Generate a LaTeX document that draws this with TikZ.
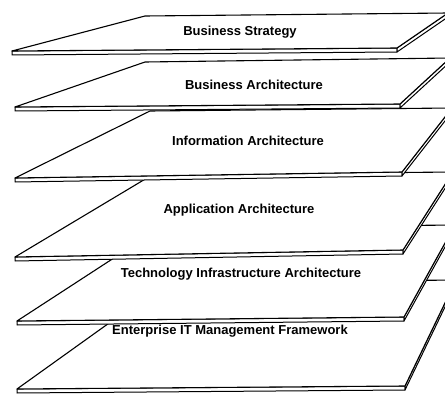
\documentclass[tikz,border=0pt]{standalone}
\usepackage{fontspec}
\setmainfont{Liberation Sans}
\newcommand{\LB}{\fontsize{13}{15}\selectfont\bfseries}

\begin{document}
\begin{tikzpicture}[x=1pt,y=-1pt]
\tikzstyle{texto}=[draw=none,fill=none,black,font=\LB]
\tikzstyle{face}=[draw=black,fill=white,line width=1.1pt,line join=round]
\tikzstyle{side}=[draw=black,fill=white,line width=1pt,line join=round]

\useasboundingbox (0,0) rectangle (445,396);
\clip (0,0) rectangle (445,396);

% plate 6
\filldraw[side] (17,389) -- (405,386) -- (405,390) -- (17,393) -- cycle;
\filldraw[side] (405,386) -- (456,280) -- (456,284) -- (405,390) -- cycle;
\filldraw[face] (165,283) -- (456,280) -- (405,386) -- (17,389) -- cycle;

% plate 5
\filldraw[side] (17,321) -- (404,317) -- (404,321) -- (17,325) -- cycle;
\filldraw[side] (404,317) -- (455,225) -- (455,229) -- (404,321) -- cycle;
\filldraw[face] (160,228) -- (455,225) -- (404,317) -- (17,321) -- cycle;

% plate 4
\filldraw[side] (15,257) -- (403,250) -- (403,254) -- (15,261) -- cycle;
\filldraw[side] (403,250) -- (453,172) -- (453,176) -- (403,254) -- cycle;
\filldraw[face] (152,175) -- (453,172) -- (403,250) -- (15,257) -- cycle;

% plate 3
\filldraw[side] (15,178) -- (402,172) -- (402,176) -- (15,182) -- cycle;
\filldraw[side] (402,172) -- (452,108) -- (452,112) -- (402,176) -- cycle;
\filldraw[face] (150,111) -- (452,108) -- (402,172) -- (15,178) -- cycle;

% plate 2
\filldraw[side] (15,107) -- (400,104) -- (400,108) -- (15,111) -- cycle;
\filldraw[side] (400,104) -- (450,58) -- (450,62) -- (400,108) -- cycle;
\filldraw[face] (145,62) -- (450,58) -- (400,104) -- (15,107) -- cycle;

% plate 1
\filldraw[side] (12,51) -- (397,48) -- (397,52) -- (12,55) -- cycle;
\filldraw[side] (397,48) -- (448,13) -- (448,17) -- (397,52) -- cycle;
\filldraw[face] (145,16) -- (448,13) -- (397,48) -- (12,51) -- cycle;

\node[texto] (strategy)    at (240,32)  {Business Strategy};
\node[texto] (business)    at (254,85)  {Business Architecture};
\node[texto] (information) at (248,141) {Information Architecture};
\node[texto] (application) at (239,210) {Application Architecture};
\node[texto] (technology)  at (241,274) {Technology Infrastructure Architecture};
\node[texto] (enterprise)  at (230,331) {Enterprise IT Management Framework};
\end{tikzpicture}
\end{document}
